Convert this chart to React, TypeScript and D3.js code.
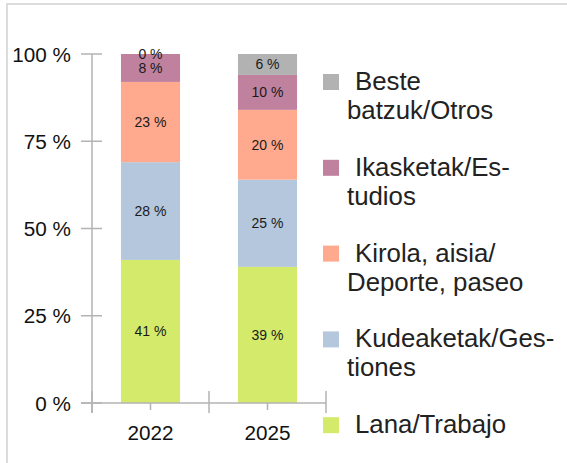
import React from "react";
import * as d3 from "d3";

const years = ["2022", "2025"];
const seriesNames = ["Lana/Trabajo", "Kudeaketak/Gestiones", "Kirola, aisia/Deporte, paseo", "Ikasketak/Estudios", "Beste batzuk/Otros"];
const values2022 = [41, 28, 23, 8, 0];
const values2025 = [39, 25, 20, 10, 6];
const colors = ["#d4ea6b", "#b4c7dc", "#ffa98f", "#bf819e", "#b2b2b2"];
const yTicks = [0, 25, 50, 75, 100];
// legend text as it wraps in the picture (top to bottom)
const legendLines = [
  ["Beste", "batzuk/Otros"],
  ["Ikasketak/Es-", "tudios"],
  ["Kirola, aisia/", "Deporte, paseo"],
  ["Kudeaketak/Ges-", "tiones"],
  ["Lana/Trabajo"],
];

const font = "'Liberation Sans', Arial, sans-serif";
const axisColor = "#b3b3b3";

export default function App() {
  const width = 567,
    height = 463;
  const y = d3.scaleLinear().domain([0, 100]).range([403, 54]);
  const x = d3.scaleBand().domain(years).range([92, 326]).padding(0);
  const barW = x.bandwidth() * 0.505;

  const rows = years.map((yr, i) => {
    const vals = i === 0 ? values2022 : values2025;
    const obj: any = { year: yr };
    seriesNames.forEach((s, j) => (obj[s] = vals[j]));
    return obj;
  });
  const stacked = d3.stack().keys(seriesNames)(rows);

  return (
    <svg width={width} height={height} style={{ position: "absolute", left: 0, top: 0 }} fontFamily={font}>
      <rect x={0} y={0} width={width} height={height} fill="#fff" />
      <line x1={7} x2={7} y1={3} y2={height} stroke="#dcdcdc" strokeWidth={2} />
      <line x1={6} x2={width} y1={4} y2={4} stroke="#dcdcdc" strokeWidth={2} />

      {stacked.map((layer, j) =>
        layer.map((d, i) => {
          const cx = (x(years[i]) as number) + x.bandwidth() / 2;
          const y0 = y(d[0]),
            y1 = y(d[1]);
          return <rect key={`${j}-${i}`} x={cx - barW / 2} y={y1} width={barW} height={y0 - y1} fill={colors[j]} />;
        })
      )}
      {stacked.map((layer, j) =>
        layer.map((d, i) => {
          const cx = (x(years[i]) as number) + x.bandwidth() / 2;
          const v = d[1] - d[0];
          return (
            <text key={`t${j}-${i}`} x={cx} y={(y(d[0]) + y(d[1])) / 2 + 5} textAnchor="middle" fontSize={14} fill="#1a1a1a">
              {`${v} %`}
            </text>
          );
        })
      )}

      {/* y axis */}
      <line x1={92} x2={92} y1={y(100)} y2={413} stroke={axisColor} strokeWidth={1.5} />
      {yTicks.map((t) => (
        <g key={t}>
          <line x1={81} x2={102} y1={y(t)} y2={y(t)} stroke={axisColor} strokeWidth={1.5} />
          <text x={71} y={y(t) + 7.5} textAnchor="end" fontSize={20.7} fill="#111">
            {`${t} %`}
          </text>
        </g>
      ))}

      {/* x axis */}
      <line x1={81} x2={326} y1={y(0)} y2={y(0)} stroke={axisColor} strokeWidth={1.5} />
      {[...years.map((yr) => x(yr) as number), 326].map((bx, i) => (
        <line key={`b${i}`} x1={bx} x2={bx} y1={391} y2={413} stroke={axisColor} strokeWidth={1.5} />
      ))}
      {years.map((yr) => {
        const cx = (x(yr) as number) + x.bandwidth() / 2;
        return (
          <g key={yr}>
            <line x1={cx} x2={cx} y1={y(0)} y2={410} stroke={axisColor} strokeWidth={1.5} />
            <text x={cx} y={440} textAnchor="middle" fontSize={20.7} fill="#111">
              {yr}
            </text>
          </g>
        );
      })}

      {/* legend */}
      {legendLines.map((lines, i) => {
        const top = 74 + i * 85.8;
        const color = colors[colors.length - 1 - i];
        return (
          <g key={i}>
            <rect x={323} y={top} width={16} height={16} fill={color} />
            {lines.map((ln, k) => (
              <text key={k} x={k === 0 ? 355 : 347} y={top + 16 + k * 29} fontSize={25.8} fill="#222">
                {ln}
              </text>
            ))}
          </g>
        );
      })}
    </svg>
  );
}
